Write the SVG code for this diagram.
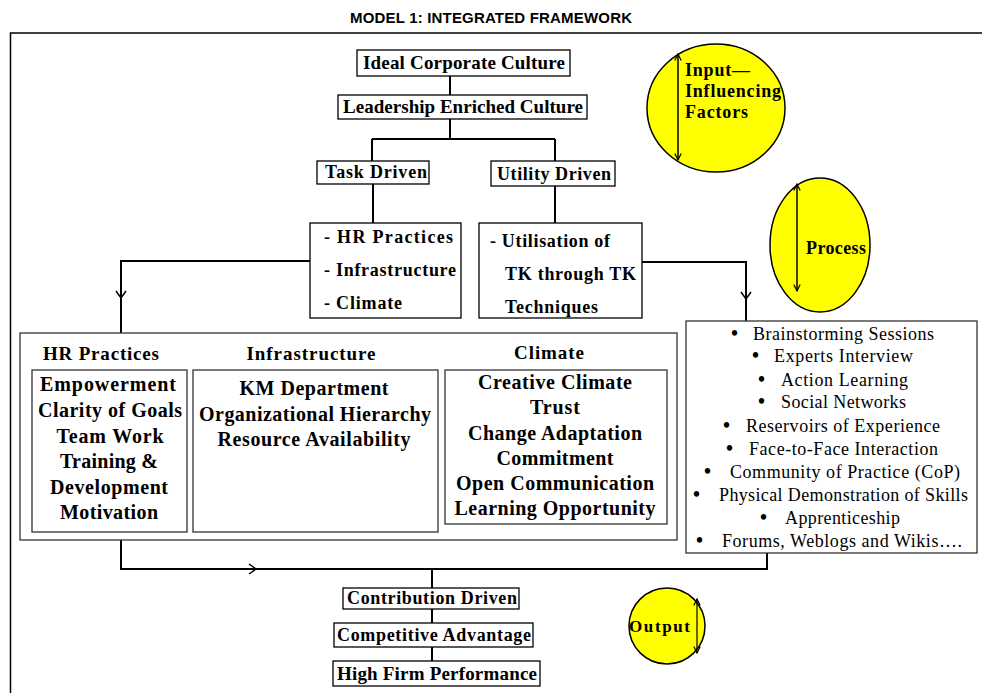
<svg xmlns="http://www.w3.org/2000/svg" width="982" height="693" viewBox="0 0 982 693">
<style>
.t{font-family:"Liberation Serif","Times New Roman",serif;font-weight:bold;fill:#000}
.m{text-anchor:middle}
.r{font-family:"Liberation Serif","Times New Roman",serif;font-size:18px;fill:#000}
.b{font-weight:bold;font-size:20px}
.box{fill:#fff;stroke:#000;stroke-width:1.3}
.gbox{fill:#fff;stroke:#333;stroke-width:1.3}
.ln{fill:none;stroke:#000;stroke-width:2}
.ch{fill:none;stroke:#000;stroke-width:1.5}
.circ{fill:#ffff00;stroke:#000;stroke-width:1.5}
</style>
<defs>
<marker id="ah" viewBox="0 0 10 10" refX="9" refY="5" markerWidth="8" markerHeight="8" orient="auto-start-reverse" markerUnits="userSpaceOnUse">
<path d="M1,1 L9,5 L1,9" fill="none" stroke="#000" stroke-width="1.5"/>
</marker>
</defs>
<rect width="982" height="693" fill="#fff"/>
<text x="491" y="23" text-anchor="middle" textLength="282" style="font-family:'Liberation Sans',Arial,sans-serif;font-weight:bold;font-size:15px">MODEL 1: INTEGRATED FRAMEWORK</text>
<path d="M10.5,693 V33 H982" fill="none" stroke="#000" stroke-width="1.5"/>

<g id="connectors">
<path class="ln" d="M450,76 V95"/>
<path class="ln" d="M450,119 V139 M372,139 H555 M372,139 V161 M555,139 V161"/>
<path class="ln" d="M373,184 V223"/>
<path class="ln" d="M555,186 V223"/>
<path class="ln" d="M310,261 H121 V333"/>
<path class="ch" d="M116,291 L121,298 L126,291"/>
<path class="ln" d="M642,262 H746 V321"/>
<path class="ch" d="M741,292 L746,299 L751,292"/>
<path class="ln" d="M121,540 V569 H767 V553"/>
<path class="ch" d="M249,564 L256,569 L249,574"/>
<path class="ln" d="M432,569 V588 M432,609 V623 M432,647 V661"/>
</g>

<g id="ideal">
<rect class="box" x="357" y="50" width="213" height="26"/>
<text class="t m" x="464" y="69" font-size="19" textLength="202">Ideal Corporate Culture</text>
</g>
<g id="leadership">
<rect class="box" x="338" y="95" width="249" height="24"/>
<text class="t m" x="463" y="113" font-size="19" textLength="240">Leadership Enriched Culture</text>
</g>
<g id="task">
<rect class="box" x="317" y="161" width="112" height="23"/>
<text class="t m" x="376" y="178" font-size="18" textLength="102">Task Driven</text>
</g>
<g id="utility">
<rect class="box" x="491" y="161" width="124" height="25"/>
<text class="t m" x="554" y="180" font-size="18" textLength="114">Utility Driven</text>
</g>
<g id="taskbox">
<rect class="box" x="310" y="223" width="151" height="95"/>
<text class="t" x="324" y="243" font-size="18" textLength="129">- HR Practices</text>
<text class="t" x="324" y="276" font-size="18" textLength="132">- Infrastructure</text>
<text class="t" x="324" y="309" font-size="18" textLength="78">- Climate</text>
</g>
<g id="utilbox">
<rect class="box" x="479" y="223" width="163" height="95"/>
<text class="t" x="490" y="247" font-size="18" textLength="120">- Utilisation of</text>
<text class="t" x="505" y="280" font-size="18" textLength="131">TK through TK</text>
<text class="t" x="505" y="313" font-size="18" textLength="93">Techniques</text>
</g>

<g id="practices">
<rect class="gbox" x="20" y="333" width="657" height="207"/>
<text class="t m" x="101" y="360" font-size="19" textLength="116">HR Practices</text>
<text class="t m" x="311" y="360" font-size="19" textLength="129">Infrastructure</text>
<text class="t m" x="549" y="359" font-size="19" textLength="70">Climate</text>
<rect class="gbox" x="32" y="370" width="155" height="162"/>
<text class="t m" x="108" y="391" font-size="20" textLength="136">Empowerment</text>
<text class="t m" x="110" y="417" font-size="20" textLength="144">Clarity of Goals</text>
<text class="t m" x="110" y="443" font-size="20" textLength="107">Team Work</text>
<text class="t m" x="109" y="468" font-size="20" textLength="98">Training &amp;</text>
<text class="t m" x="109" y="494" font-size="20" textLength="118">Development</text>
<text class="t m" x="109" y="519" font-size="20" textLength="98">Motivation</text>
<rect class="gbox" x="193" y="370" width="245" height="162"/>
<text class="t m" x="314" y="395" font-size="20" textLength="149">KM Department</text>
<text class="t m" x="315" y="421" font-size="20" textLength="232">Organizational Hierarchy</text>
<text class="t m" x="314" y="446" font-size="20" textLength="193">Resource Availability</text>
<rect class="gbox" x="445" y="370" width="222" height="154"/>
<text class="t m" x="555" y="389" font-size="20" textLength="154">Creative Climate</text>
<text class="t m" x="555" y="414" font-size="20" textLength="50">Trust</text>
<text class="t m" x="555" y="440" font-size="20" textLength="174">Change Adaptation</text>
<text class="t m" x="555" y="465" font-size="20" textLength="117">Commitment</text>
<text class="t m" x="555" y="490" font-size="20" textLength="198">Open Communication</text>
<text class="t m" x="555" y="515" font-size="20" textLength="201">Learning Opportunity</text>
</g>

<g id="techniques">
<rect class="gbox" x="686" y="321" width="291" height="232"/>
<text class="r" x="731" y="340"><tspan class="b">•</tspan><tspan x="753" textLength="181">Brainstorming Sessions</tspan></text>
<text class="r" x="752" y="362"><tspan class="b">•</tspan><tspan x="774" textLength="139">Experts Interview</tspan></text>
<text class="r" x="758" y="386"><tspan class="b">•</tspan><tspan x="781" textLength="127">Action Learning</tspan></text>
<text class="r" x="758" y="408"><tspan class="b">•</tspan><tspan x="781" textLength="125">Social Networks</tspan></text>
<text class="r" x="723" y="432"><tspan class="b">•</tspan><tspan x="746" textLength="194">Reservoirs of Experience</tspan></text>
<text class="r" x="726" y="455"><tspan class="b">•</tspan><tspan x="749" textLength="189">Face-to-Face Interaction</tspan></text>
<text class="r" x="704" y="478"><tspan class="b">•</tspan><tspan x="730" textLength="230">Community of Practice (CoP)</tspan></text>
<text class="r" x="693" y="501"><tspan class="b">•</tspan><tspan x="719" textLength="249">Physical Demonstration of Skills</tspan></text>
<text class="r" x="760" y="524"><tspan class="b">•</tspan><tspan x="785" textLength="115">Apprenticeship</tspan></text>
<text class="r" x="696" y="547"><tspan class="b">•</tspan><tspan x="722" textLength="240">Forums, Weblogs and Wikis….</tspan></text>
</g>

<g id="contribution">
<rect class="box" x="343" y="588" width="176" height="21"/>
<text class="t m" x="432" y="604" font-size="18" textLength="170">Contribution Driven</text>
</g>
<g id="competitive">
<rect class="box" x="334" y="623" width="199" height="24"/>
<text class="t m" x="434" y="641" font-size="18" textLength="194">Competitive Advantage</text>
</g>
<g id="performance">
<rect class="box" x="333" y="661" width="207" height="25"/>
<text class="t m" x="437" y="680" font-size="19" textLength="200">High Firm Performance</text>
</g>

<g id="input">
<ellipse class="circ" cx="716" cy="108" rx="69" ry="64"/>
<line x1="678" y1="54" x2="678" y2="160" stroke="#000" stroke-width="1.5" marker-start="url(#ah)" marker-end="url(#ah)"/>
<text class="t" x="685" y="76" font-size="18" textLength="65">Input—</text>
<text class="t" x="685" y="97" font-size="18" textLength="96">Influencing</text>
<text class="t" x="685" y="118" font-size="18" textLength="63">Factors</text>
</g>
<g id="process">
<ellipse class="circ" cx="820" cy="245" rx="50" ry="67"/>
<line x1="797" y1="184" x2="797" y2="291" stroke="#000" stroke-width="1.5" marker-start="url(#ah)" marker-end="url(#ah)"/>
<text class="t" x="806" y="254" font-size="18" textLength="60">Process</text>
</g>
<g id="output">
<ellipse class="circ" cx="667" cy="626" rx="38" ry="38"/>
<line x1="697" y1="599" x2="697" y2="653" stroke="#000" stroke-width="1.2" marker-start="url(#ah)" marker-end="url(#ah)"/>
<text class="t" x="629" y="632" font-size="17" textLength="61">Output</text>
</g>
</svg>
